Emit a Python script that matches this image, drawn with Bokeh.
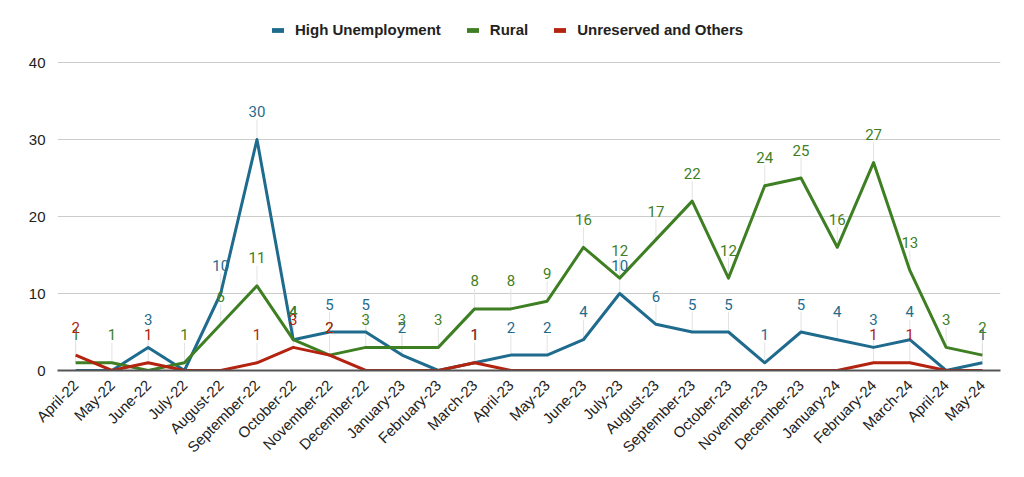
import math
from bokeh.plotting import figure
from bokeh.models import (ColumnDataSource, Range1d, FixedTicker, Legend, LegendItem)
from bokeh.core.properties import value
from bokeh.embed import file_html
from bokeh.resources import INLINE

months = ["April-22", "May-22", "June-22", "July-22", "August-22", "September-22",
          "October-22", "November-22", "December-22", "January-23", "February-23",
          "March-23", "April-23", "May-23", "June-23", "July-23", "August-23",
          "September-23", "October-23", "November-23", "December-23", "January-24",
          "February-24", "March-24", "April-24", "May-24"]

high_unemployment = [0, 0, 3, 0, 10, 30, 4, 5, 5, 2, 0, 1, 2, 2, 4, 10, 6, 5, 5, 1, 5, 4, 3, 4, 0, 1]
rural = [1, 1, 0, 1, 6, 11, 4, 2, 3, 3, 3, 8, 8, 9, 16, 12, 17, 22, 12, 24, 25, 16, 27, 13, 3, 2]
unreserved = [2, 0, 1, 0, 0, 1, 3, 2, 0, 0, 0, 1, 0, 0, 0, 0, 0, 0, 0, 0, 0, 0, 1, 1, 0, 0]

series_names = ["High Unemployment", "Rural", "Unreserved and Others"]
series_values = [high_unemployment, rural, unreserved]
colors = ["#1f6b8e", "#3f7f24", "#b3230f"]

y_ticks = [0, 10, 20, 30, 40]

FRAME_W = 943
GRID_H = 308          # pixel height of the 0..40 gridded area
TOP_EXTRA = 54        # empty space above the 40 gridline (holds the legend)
FRAME_H = GRID_H + TOP_EXTRA
Y_MIN, Y_MAX = 0, 40
px_per_unit = GRID_H / (Y_MAX - Y_MIN)
Y_VIEW_MAX = Y_MAX + TOP_EXTRA / px_per_unit
LABEL_OFFSET = 28            # px between point and label centre
STEM_LEN = 20 / px_per_unit  # stem height in data units

p = figure(x_range=months, y_range=Range1d(Y_MIN, Y_VIEW_MAX),
           frame_width=FRAME_W, frame_height=FRAME_H,
           min_border_left=57, min_border_right=16, min_border_top=8, min_border_bottom=60,
           output_backend="svg", toolbar_location=None,
           background_fill_color="white", border_fill_color="white")
p.outline_line_color = None

# grid
p.xgrid.grid_line_color = None
p.ygrid.grid_line_color = "#cccccc"
p.ygrid.grid_line_width = 1
p.yaxis.ticker = FixedTicker(ticks=y_ticks)

# axes
p.yaxis.axis_line_color = None
p.yaxis.major_tick_line_color = None
p.yaxis.minor_tick_line_color = None
p.yaxis.major_label_text_font = "Liberation Sans"
p.yaxis.major_label_text_font_size = "15px"
p.yaxis.major_label_text_color = "#222222"
p.yaxis.major_label_standoff = 6

p.xaxis.axis_line_color = "#555555"
p.xaxis.axis_line_width = 2
p.xaxis.major_tick_line_color = None
p.xaxis.minor_tick_line_color = None
p.xaxis.major_label_orientation = math.pi / 4
p.xaxis.major_label_text_font = "Liberation Sans"
p.xaxis.major_label_text_font_size = "15px"
p.xaxis.major_label_text_color = "#222222"
p.xaxis.major_label_standoff = 6

# stems (annotation leaders)
for vals in series_values:
    xs = [m for m, v in zip(months, vals) if v != 0]
    y0 = [v for v in vals if v != 0]
    y1 = [v + STEM_LEN for v in y0]
    p.segment(x0=xs, y0=y0, x1=xs, y1=y1, line_color="#e3e3e3", line_width=1)

# lines
for name, vals, col in zip(series_names, series_values, colors):
    p.line(x=months, y=vals, line_color=col, line_width=3, line_join="round")

# labels
for vals, col in zip(series_values, colors):
    xs = [m for m, v in zip(months, vals) if v != 0]
    ys = [v for v in vals if v != 0]
    src = ColumnDataSource(dict(x=xs, y=ys, t=[str(v) for v in ys]))
    p.text(x="x", y="y", text="t", source=src, y_offset=-LABEL_OFFSET,
           text_align="center", text_baseline="middle",
           text_font=value("Roboto"), text_font_size="15px", text_color=col)

# legend swatches (non-drawn NaN quads, used only for the legend glyph)
nan = float("nan")
items = []
for name, col in zip(series_names, colors):
    r = p.quad(left=[nan], right=[nan], top=[nan], bottom=[nan],
               fill_color=col, line_color=None)
    items.append(LegendItem(label=name, renderers=[r]))

legend = Legend(items=items, orientation="horizontal",
                location=(213, GRID_H + 24),
                glyph_width=15, glyph_height=6, label_height=16,
                label_standoff=10, spacing=24, padding=0, margin=0,
                border_line_color=None, background_fill_alpha=0,
                label_text_font="Liberation Sans", label_text_font_style="bold",
                label_text_font_size="15px", label_text_color="#222222")
p.add_layout(legend, "center")

open("out.html", "w").write(file_html(p, INLINE))
